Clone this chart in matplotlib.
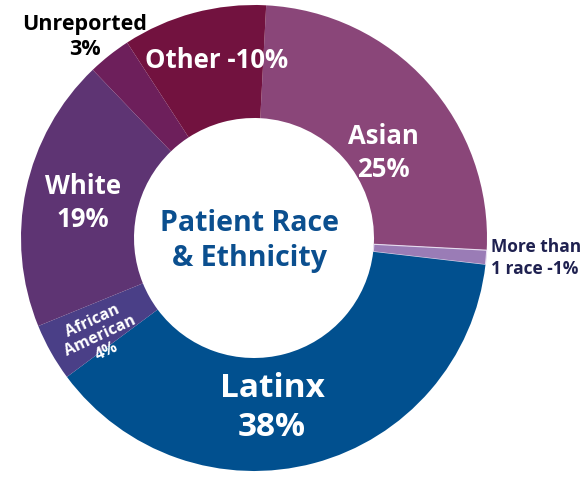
import matplotlib.pyplot as plt

labels = ["Asian", "More than 1 race", "Latinx", "African American", "White", "Unreported", "Other"]
values = [25, 1, 38, 4, 19, 3, 10]
colors = ["#8a4679", "#9a7cb6", "#01508f", "#4a3f87", "#5e3473", "#6d1f5b", "#72123f"]

W, H = 581, 478
fig = plt.figure(figsize=(W / 100, H / 100), dpi=100)
ax = fig.add_axes([0, 0, 1, 1])
ax.axis("off")

cx, cy, R = 254, H - 238, 233
wedges, _ = ax.pie(values, colors=colors, startangle=87, counterclock=False,
                   center=(cx, cy), radius=R,
                   wedgeprops=dict(width=R - 120, edgecolor="none"))
# thin light borders around the small slice
wedges[1].set_edgecolor("#e6dcef")
wedges[1].set_linewidth(0.8)
ax.set_xlim(0, W)
ax.set_ylim(0, H)
ax.set_aspect("equal")

fam = ["Open Sans", "DejaVu Sans"]


def txt(x, y, s, size, color="white", **kw):
    ax.text(x, H - y, s, fontsize=size, color=color, fontweight="bold",
            family=fam, ha=kw.pop("ha", "center"), va="center",
            linespacing=kw.pop("ls", 1.25), **kw)


txt(250, 241, "Patient Race\n& Ethnicity", 20.5, color="#0b4f8f")
txt(217, 60, "Other -10%", 18.5)
txt(383, 153, "Asian\n25%", 18.5)
txt(83, 203, "White\n19%", 18.5)
txt(272, 408, "Latinx\n38%", 24)
txt(85, 37, "Unreported\n3%", 15.5, color="black")
txt(491, 258, "More than\n1 race -1%", 12.5, color="#1f2150", ha="left")
txt(100, 336, "African\nAmerican\n4%", 11.5, rotation=25, ls=1.05)

fig.savefig("out.png", dpi=100)
